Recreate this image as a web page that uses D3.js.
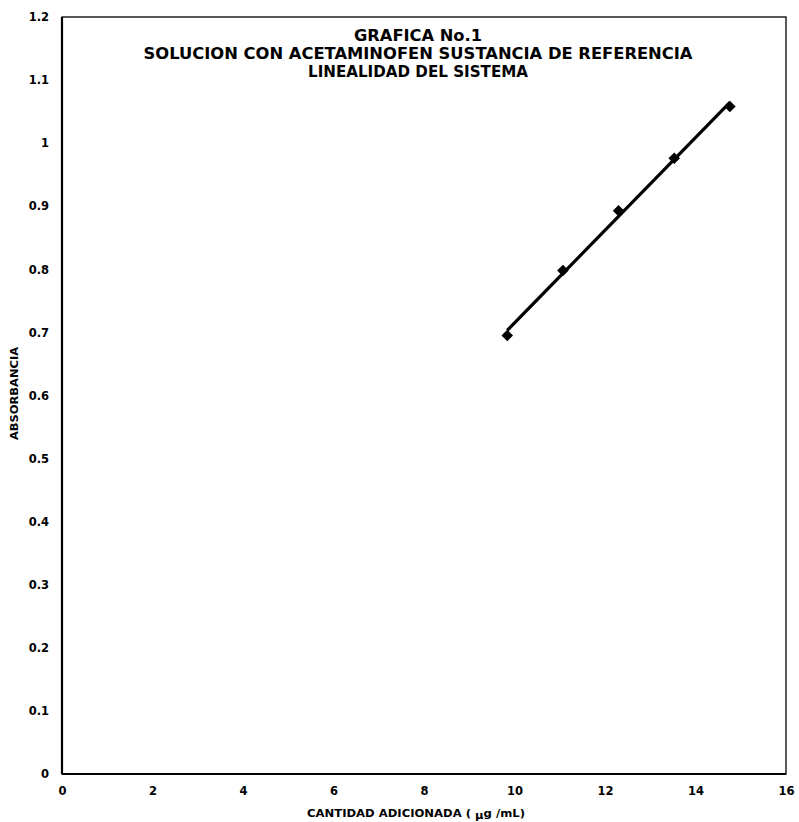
<!DOCTYPE html>
<html><head><meta charset="utf-8">
<script src="https://cdn.jsdelivr.net/npm/d3@7"></script>
<style>body{margin:0;background:#fff}text{font-family:"DejaVu Sans",Arial,sans-serif;font-weight:bold;fill:#000}</style>
</head><body><svg id="c" width="799" height="822"></svg>
<script>
const cantidad = [9.84, 11.07, 12.3, 13.53, 14.76];
const absorbancia = [0.695, 0.798, 0.893, 0.976, 1.058];
const xTicks = [0, 2, 4, 6, 8, 10, 12, 14, 16];
const yTicks = [0, 0.1, 0.2, 0.3, 0.4, 0.5, 0.6, 0.7, 0.8, 0.9, 1, 1.1, 1.2];
const titleLines = ["GRAFICA No.1", "SOLUCION CON ACETAMINOFEN  SUSTANCIA DE REFERENCIA", "LINEALIDAD DEL SISTEMA"];

const svg = d3.select("#c");
const L = 62, R = 786, T = 17, B = 774;
const x = d3.scaleLinear().domain([0, 16]).range([L, R]);
const y = d3.scaleLinear().domain([0, 1.2]).range([B, T]);
const FF = "'DejaVu Sans',Arial,sans-serif";

svg.append("rect").attr("x", L).attr("y", T).attr("width", R - L).attr("height", B - T)
  .attr("fill", "none").attr("stroke", "#000").attr("stroke-width", 1.3);
svg.append("line").attr("x1", L).attr("x2", L).attr("y1", T).attr("y2", B).attr("stroke", "#000").attr("stroke-width", 2.2);
svg.append("line").attr("x1", L).attr("x2", R).attr("y1", B).attr("y2", B).attr("stroke", "#000").attr("stroke-width", 2.2);

const yAxis = svg.append("g").attr("transform", `translate(${L},0)`)
  .call(d3.axisLeft(y).tickValues(yTicks).tickSize(0).tickPadding(13).tickFormat(d => String(+d.toFixed(1))));
yAxis.select(".domain").remove();
yAxis.selectAll("text").style("font-size", "11.5px").style("font-family", FF).style("font-weight", "bold");

const xAxis = svg.append("g").attr("transform", `translate(0,${B})`)
  .call(d3.axisBottom(x).tickValues(xTicks).tickSize(0).tickPadding(13));
xAxis.select(".domain").remove();
xAxis.selectAll("text").style("font-size", "11.5px").style("font-family", FF).style("font-weight", "bold");

// regression trendline
const mx = d3.mean(cantidad), my = d3.mean(absorbancia);
const slope = d3.sum(cantidad, (v, i) => (v - mx) * (absorbancia[i] - my)) / d3.sum(cantidad, v => (v - mx) ** 2);
const icpt = my - slope * mx;
const x0 = d3.min(cantidad), x1 = d3.max(cantidad);
svg.append("line").attr("x1", x(x0)).attr("y1", y(icpt + slope * x0))
  .attr("x2", x(x1)).attr("y2", y(icpt + slope * x1))
  .attr("stroke", "#000").attr("stroke-width", 3.2);

const sym = d3.symbol().type(d3.symbolDiamond2).size(85);
svg.selectAll("path.pt").data(cantidad).join("path").attr("class", "pt")
  .attr("d", sym).attr("transform", (d, i) => `translate(${x(d)},${y(absorbancia[i])})`).attr("fill", "#000");

const titleLen = [128, 549, 220];
const titleY = [41, 59, 77];
svg.append("g").selectAll("text").data(titleLines).join("text")
  .attr("x", 418).attr("y", (d, i) => titleY[i]).attr("text-anchor", "middle")
  .attr("textLength", (d, i) => titleLen[i]).attr("lengthAdjust", "spacingAndGlyphs")
  .style("font-size", "15.5px").text(d => d);

svg.append("text").attr("transform", "translate(18,393.5) rotate(-90)").attr("text-anchor", "middle")
  .attr("textLength", 93).attr("lengthAdjust", "spacingAndGlyphs")
  .style("font-size", "11px").text("ABSORBANCIA");

const xt = svg.append("text").attr("x", 307).attr("y", 817).attr("text-anchor", "start")
  .attr("textLength", 218).attr("lengthAdjust", "spacingAndGlyphs").style("font-size", "11px");
xt.append("tspan").text("CANTIDAD ADICIONADA ( ");
xt.append("tspan").attr("dy", 2).text("μ");
xt.append("tspan").attr("dy", -2).text("g /mL)");
</script></body></html>
